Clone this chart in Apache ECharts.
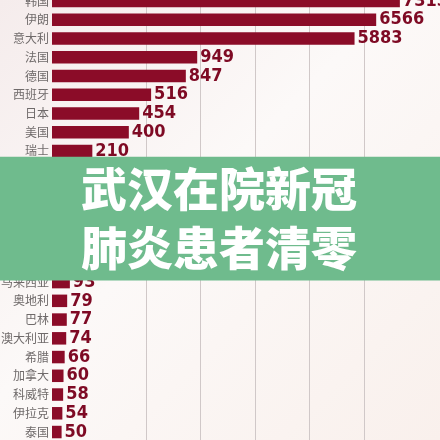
<!DOCTYPE html>
<html>
<head>
<meta charset="utf-8">
<script src="https://cdn.jsdelivr.net/npm/echarts@6/dist/echarts.min.js"></script>
<style>
html,body{margin:0;padding:0;background:#fff;}
#c{width:440px;height:440px;}
</style>
</head>
<body>
<div id="c"></div>
<script>
var categories = ['韩国','伊朗','意大利','法国','德国','西班牙','日本','美国','瑞士','英国','荷兰','比利时','瑞典','新加坡','挪威','马来西亚','奥地利','巴林','澳大利亚','希腊','加拿大','科威特','伊拉克','泰国'];
var values = [7313,6566,5883,949,847,516,454,400,210,206,188,169,161,150,147,93,79,77,74,66,60,58,54,50];
// the original graphic compresses large values; reproduced with axis breaks
var axisBreaks = [
  {start: 520, end: 940, gap: 227},
  {start: 955, end: 7500, gap: 1080}
];
var axisMax = 7600;
var bannerLines = ['武汉在院新冠', '肺炎患者清零'];

var chart = echarts.init(document.getElementById('c'), null, {renderer: 'canvas'});
var option = {
  animation: false,
  backgroundColor: {
    type: 'linear', x: 0, y: 0, x2: 1, y2: 1,
    colorStops: [
      {offset: 0, color: '#f5ecec'},
      {offset: 0.45, color: '#fcf9f8'},
      {offset: 1, color: '#f9f0ec'}
    ]
  },
  grid: [
    {left: 52, top: -8.4, width: 373, height: 449.8, containLabel: false, outerBoundsMode: 'none'},
    {left: 146, top: 0, width: 218.3, bottom: 0, containLabel: false, outerBoundsMode: 'none'}
  ],
  xAxis: [
    {
      type: 'value', gridIndex: 0, min: 0, max: axisMax,
      breaks: axisBreaks,
      breakArea: {show: false, itemStyle: {color: 'rgba(0,0,0,0)', borderColor: 'rgba(0,0,0,0)', borderWidth: 0, opacity: 0}, zigzagAmplitude: 0},
      axisLine: {show: false}, axisTick: {show: false}, axisLabel: {show: false}, splitLine: {show: false}
    },
    {
      type: 'value', gridIndex: 1, min: 0, max: 4, interval: 1,
      axisLine: {show: false}, axisTick: {show: false}, axisLabel: {show: false},
      splitLine: {show: true, showMinLine: true, showMaxLine: true, lineStyle: {color: '#d0c8c8', width: 1}}
    }
  ],
  yAxis: [
    {
      type: 'category', gridIndex: 0, data: categories, inverse: true,
      axisLine: {show: false}, axisTick: {show: false}, splitLine: {show: false},
      axisLabel: {margin: 3, color: '#6f6a6a', fontSize: 12, fontFamily: 'Noto Sans CJK SC'}
    },
    {type: 'value', gridIndex: 1, show: false, min: 0, max: 1}
  ],
  series: [{
    type: 'bar', xAxisIndex: 0, yAxisIndex: 0,
    data: values, barWidth: 12.5, clip: false,
    itemStyle: {color: '#8b0c28'},
    label: {
      show: true, position: 'right', distance: 3,
      color: '#7e0a24', fontSize: 18, fontWeight: 'bold',
      fontFamily: "'Liberation Sans Narrow', 'DejaVu Sans Condensed', sans-serif"
    }
  }],
  graphic: [
    {type: 'rect', z: 100, shape: {x: 0, y: 156.8, width: 440, height: 123.8}, style: {fill: '#6fbb8d'}},
    {type: 'text', z: 101, x: 219, y: 189, style: {text: bannerLines[0], fill: '#ffffff', fontSize: 46, fontWeight: 900, fontFamily: 'Noto Sans CJK SC', align: 'center', verticalAlign: 'middle'}},
    {type: 'text', z: 101, x: 219, y: 247.5, style: {text: bannerLines[1], fill: '#ffffff', fontSize: 46, fontWeight: 900, fontFamily: 'Noto Sans CJK SC', align: 'center', verticalAlign: 'middle'}}
  ]
};
chart.setOption(option);
</script>
</body>
</html>
